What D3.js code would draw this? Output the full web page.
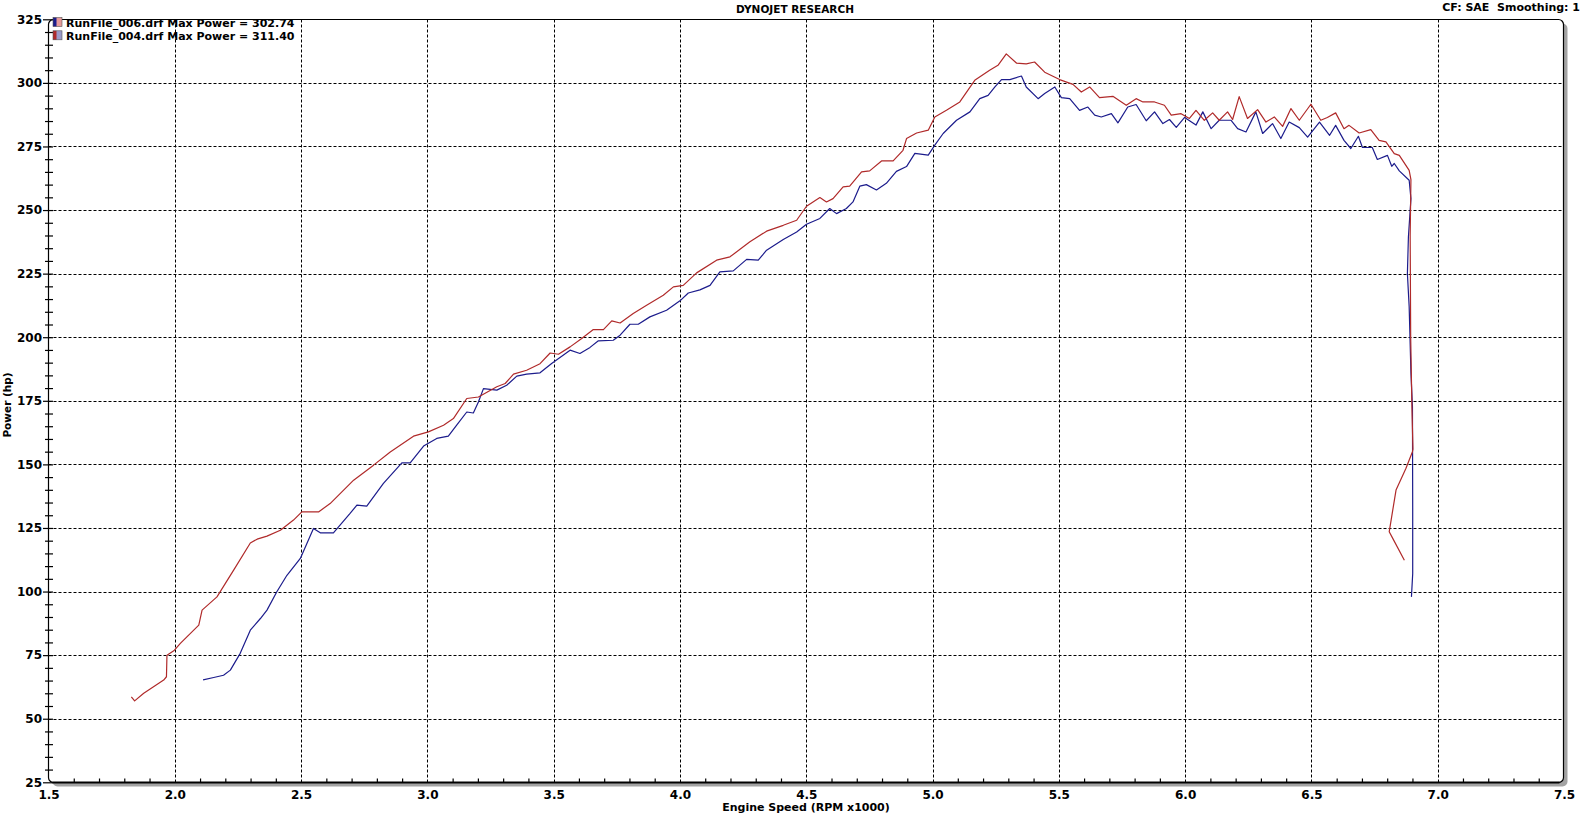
<!DOCTYPE html>
<html>
<head>
<meta charset="utf-8">
<script src="https://cdn.jsdelivr.net/npm/d3@7"></script>
<style>
  html, body { margin: 0; padding: 0; background: #ffffff; }
  svg { display: block; font-family: "DejaVu Sans", Verdana, sans-serif; font-weight: bold; }
  text { white-space: pre; }
</style>
</head>
<body>
<svg id="chart" width="1591" height="815"></svg>
<script>
// ---------------- DATA ----------------
const titleText = "DYNOJET RESEARCH";
const infoText = "CF: SAE  Smoothing: 1";
const xAxisTitle = "Engine Speed (RPM x1000)";
const yAxisTitle = "Power (hp)";

const xTickValues = [1.5, 2.0, 2.5, 3.0, 3.5, 4.0, 4.5, 5.0, 5.5, 6.0, 6.5, 7.0, 7.5];
const yTickValues = [25, 50, 75, 100, 125, 150, 175, 200, 225, 250, 275, 300, 325];

const seriesNames = ["RunFile_006.drf Max Power = 302.74", "RunFile_004.drf Max Power = 311.40"];

// RunFile_006 (blue)
const rpm006 = [2.112,2.154,2.193,2.220,2.259,2.299,2.339,2.365,2.404,2.444,2.497,2.523,2.549,2.576,2.628,2.694,2.721,2.760,2.826,2.899,2.932,2.985,3.037,3.083,3.116,3.156,3.182,3.202,3.222,3.275,3.314,3.354,3.393,3.446,3.492,3.525,3.565,3.604,3.644,3.677,3.736,3.763,3.802,3.835,3.881,3.947,4.000,4.033,4.079,4.119,4.158,4.211,4.264,4.310,4.343,4.409,4.462,4.501,4.554,4.593,4.620,4.659,4.685,4.712,4.738,4.778,4.817,4.857,4.897,4.930,4.983,5.009,5.042,5.095,5.148,5.187,5.220,5.247,5.273,5.306,5.352,5.371,5.418,5.444,5.484,5.510,5.543,5.582,5.615,5.642,5.668,5.708,5.734,5.773,5.806,5.846,5.879,5.912,5.938,5.965,5.998,6.043,6.070,6.103,6.135,6.182,6.208,6.241,6.280,6.307,6.346,6.379,6.412,6.452,6.485,6.532,6.572,6.596,6.629,6.656,6.686,6.702,6.741,6.761,6.801,6.818,6.828,6.848,6.887,6.894,6.884,6.880,6.887,6.894,6.900,6.901,6.901,6.896];
const hp006 = [65.3,66.2,67.1,69.1,75.7,84.8,89.4,92.7,99.9,106.4,113.0,118.9,124.8,123.1,123.1,130.7,134.0,133.6,142.5,150.6,150.6,157.2,160.2,161.1,165.4,170.6,170.2,174.5,179.8,179.2,181.1,184.7,185.5,186.0,189.7,192.0,194.9,193.6,196.0,198.6,198.8,200.8,205.1,205.1,208.0,210.6,214.3,217.4,218.6,220.4,225.7,226.1,230.6,230.3,234.2,238.4,241.4,244.4,246.7,250.6,248.6,250.6,253.2,259.4,260.0,257.9,260.5,265.2,267.1,272.3,271.6,275.5,280.1,285.3,288.6,293.8,295.1,298.4,301.3,301.3,302.7,298.4,293.8,295.8,298.4,294.2,293.8,289.2,290.5,287.3,286.6,287.9,284.3,290.5,291.5,285.1,288.6,284.0,285.6,282.5,286.4,283.4,288.6,282.0,285.3,285.3,282.0,280.7,288.6,280.1,284.0,278.1,284.6,282.4,278.7,284.6,279.4,283.3,277.4,274.2,279.0,274.6,274.6,269.9,271.5,267.2,268.3,265.4,261.7,254.5,239.4,225.0,212.0,186.0,172.6,133.0,107.0,97.9];

// RunFile_004 (red)
const rpm004 = [1.828,1.841,1.877,1.956,1.967,1.969,1.996,2.022,2.095,2.108,2.167,2.233,2.299,2.326,2.365,2.418,2.470,2.503,2.569,2.615,2.708,2.787,2.853,2.945,3.004,3.064,3.103,3.156,3.202,3.275,3.308,3.341,3.393,3.446,3.486,3.519,3.565,3.611,3.657,3.697,3.730,3.763,3.815,3.868,3.934,3.974,4.013,4.066,4.145,4.198,4.277,4.343,4.409,4.462,4.501,4.554,4.580,4.606,4.646,4.672,4.719,4.751,4.798,4.844,4.883,4.897,4.937,4.983,5.009,5.055,5.108,5.167,5.226,5.259,5.292,5.332,5.371,5.404,5.444,5.503,5.556,5.589,5.622,5.661,5.714,5.767,5.806,5.833,5.879,5.918,5.945,5.984,6.017,6.043,6.076,6.109,6.135,6.168,6.188,6.214,6.247,6.287,6.320,6.353,6.386,6.419,6.452,6.498,6.537,6.563,6.596,6.629,6.649,6.689,6.735,6.768,6.795,6.828,6.848,6.887,6.894,6.891,6.893,6.898,6.902,6.900,6.874,6.835,6.822,6.808,6.822,6.868];
const hp004 = [58.6,57.0,60.0,65.2,66.5,75.0,76.7,79.6,86.8,92.7,97.9,108.4,119.1,120.6,121.8,124.1,128.1,131.3,131.3,134.6,143.8,149.7,154.9,161.1,162.8,165.4,168.0,175.9,176.5,180.5,181.8,185.5,187.0,189.6,193.8,193.3,196.2,199.5,203.0,203.0,206.4,205.6,209.3,212.6,216.5,219.8,220.4,225.3,230.3,231.6,237.5,241.7,244.0,246.0,251.5,254.9,253.2,254.5,259.1,259.4,265.0,265.4,269.3,269.3,273.5,278.1,280.3,281.4,286.6,289.2,292.5,301.0,305.0,306.9,311.4,307.8,307.5,308.2,304.2,301.3,299.4,296.4,298.4,294.2,294.7,291.2,293.8,292.5,292.5,291.2,287.3,287.9,286.0,289.2,285.3,288.2,285.3,288.6,285.6,294.6,286.0,289.5,284.6,286.6,282.9,289.9,285.3,291.6,285.3,286.4,288.2,282.0,283.3,280.3,281.6,277.4,276.8,272.2,271.5,265.6,262.0,240.0,200.0,172.0,156.0,155.0,148.4,139.9,132.0,123.5,120.9,112.3];

const seriesColors = ["#1c1c8c", "#b02a2a"];
const legendLight = ["#e59a9a", "#9a9ac8"];

// ---------------- DRAW ----------------
const svg = d3.select("#chart");
const X0 = 48.5, X1 = 1563.5, Y0 = 19.5, Y1 = 782.5;

const x = d3.scaleLinear().domain([1.5, 7.5]).range([48.5, 1564]);
const y = d3.scaleLinear().domain([25, 325]).range([782.3, 19.3]);

// shadow + frame
svg.append("rect").attr("x", X0 + 4).attr("y", Y0 + 4).attr("width", X1 - X0).attr("height", Y1 - Y0)
  .attr("rx", 5).attr("fill", "#a3a3a3");
svg.append("rect").attr("x", X0).attr("y", Y0).attr("width", X1 - X0).attr("height", Y1 - Y0)
  .attr("rx", 5).attr("fill", "#ffffff").attr("stroke", "none");

// grid
const gridX = xTickValues.slice(1, -1);
const gridY = yTickValues.slice(1, -1);
svg.append("g").selectAll("line").data(gridX).join("line")
  .attr("x1", d => Math.round(x(d)) + 0.5).attr("x2", d => Math.round(x(d)) + 0.5)
  .attr("y1", Y0).attr("y2", Y1)
  .attr("stroke", "#000").attr("stroke-width", 1).attr("stroke-dasharray", "3,2");
svg.append("g").selectAll("line").data(gridY).join("line")
  .attr("y1", d => Math.round(y(d)) + 0.5).attr("y2", d => Math.round(y(d)) + 0.5)
  .attr("x1", X0).attr("x2", X1)
  .attr("stroke", "#000").attr("stroke-width", 1).attr("stroke-dasharray", "3,2");

// frame stroke
svg.append("rect").attr("x", X0).attr("y", Y0).attr("width", X1 - X0).attr("height", Y1 - Y0)
  .attr("rx", 5).attr("fill", "none").attr("stroke", "#000").attr("stroke-width", 1.2);
svg.append("line").attr("x1", X0 + 4).attr("x2", X1 - 4).attr("y1", Y1).attr("y2", Y1)
  .attr("stroke", "#000").attr("stroke-width", 1.8);

// clip
svg.append("clipPath").attr("id", "plotclip").append("rect")
  .attr("x", X0).attr("y", Y0).attr("width", X1 - X0).attr("height", Y1 - Y0);

// lines
const line = d3.line().x(d => x(d[0])).y(d => y(d[1]));
const data006 = rpm006.map((r, i) => [r, hp006[i]]);
const data004 = rpm004.map((r, i) => [r, hp004[i]]);
const gl = svg.append("g").attr("clip-path", "url(#plotclip)");
gl.append("path").datum(data006).attr("d", line).attr("fill", "none")
  .attr("stroke", seriesColors[0]).attr("stroke-width", 1.2).attr("stroke-linejoin", "round");
gl.append("path").datum(data004).attr("d", line).attr("fill", "none")
  .attr("stroke", seriesColors[1]).attr("stroke-width", 1.2).attr("stroke-linejoin", "round");

// y axis minor ticks
const yMinor = d3.range(30, 325, 5).filter(v => v % 25 !== 0);
const yMinorAxis = d3.axisLeft(y).tickValues(yMinor).tickSize(8).tickFormat("");
svg.append("g").attr("transform", "translate(53,0)").call(yMinorAxis)
  .call(g => g.select(".domain").remove())
  .selectAll("line").attr("stroke", "#000").attr("stroke-width", 1.2);

// y axis major
const yAxis = d3.axisLeft(y).tickValues(yTickValues).tickSize(10).tickPadding(1).tickFormat(d3.format("d"));
const gy = svg.append("g").attr("transform", "translate(53,0)").call(yAxis);
gy.select(".domain").remove();
gy.selectAll("line").attr("stroke", "#000").attr("stroke-width", 1.2);
gy.selectAll("text").attr("font-size", 12).attr("font-family", "DejaVu Sans").attr("font-weight", "bold").attr("fill", "#000");

// x axis minor ticks
const xMinor = d3.range(16, 75, 1).map(v => v / 10).filter(v => Math.abs(v * 2 - Math.round(v * 2)) > 1e-6);
const xMinorAxis = d3.axisBottom(x).tickValues(xMinor).tickSize(-4).tickFormat("");
svg.append("g").attr("transform", `translate(0,${Y1})`).call(xMinorAxis)
  .call(g => g.select(".domain").remove())
  .selectAll("line").attr("stroke", "#000").attr("stroke-width", 1.2);

// x axis major labels
const xAxis = d3.axisBottom(x).tickValues(xTickValues).tickSize(0).tickPadding(8).tickFormat(d3.format(".1f"));
const gx = svg.append("g").attr("transform", `translate(0,${Y1})`).call(xAxis);
gx.select(".domain").remove();
gx.selectAll("text").attr("font-size", 12).attr("font-family", "DejaVu Sans").attr("font-weight", "bold").attr("fill", "#000");

// titles
svg.append("text").attr("x", 795).attr("y", 13).attr("text-anchor", "middle")
  .attr("font-size", 10.5).text(titleText);
svg.append("text").attr("x", 1580).attr("y", 11).attr("text-anchor", "end")
  .attr("font-size", 11).text(infoText);
svg.append("text").attr("x", 806).attr("y", 811).attr("text-anchor", "middle")
  .attr("font-size", 11).text(xAxisTitle);
svg.append("text").attr("transform", "translate(11,405) rotate(-90)").attr("text-anchor", "middle")
  .attr("font-size", 10.5).text(yAxisTitle);

// legend
const lg = svg.append("g").selectAll("g").data(seriesNames).join("g")
  .attr("transform", (d, i) => `translate(53,${17.5 + i * 13.3})`);
lg.append("rect").attr("x", 0).attr("y", 0).attr("width", 9).attr("height", 9)
  .attr("fill", (d, i) => legendLight[i]);
lg.append("rect").attr("x", 0).attr("y", 0).attr("width", 3.5).attr("height", 9)
  .attr("fill", (d, i) => seriesColors[i]);
lg.append("rect").attr("x", 0).attr("y", 0).attr("width", 9).attr("height", 9)
  .attr("fill", "none").attr("stroke", "#555").attr("stroke-width", 0.6);
lg.append("text").attr("x", 13).attr("y", 9.5).attr("font-size", 11).text(d => d);
</script>
</body>
</html>
